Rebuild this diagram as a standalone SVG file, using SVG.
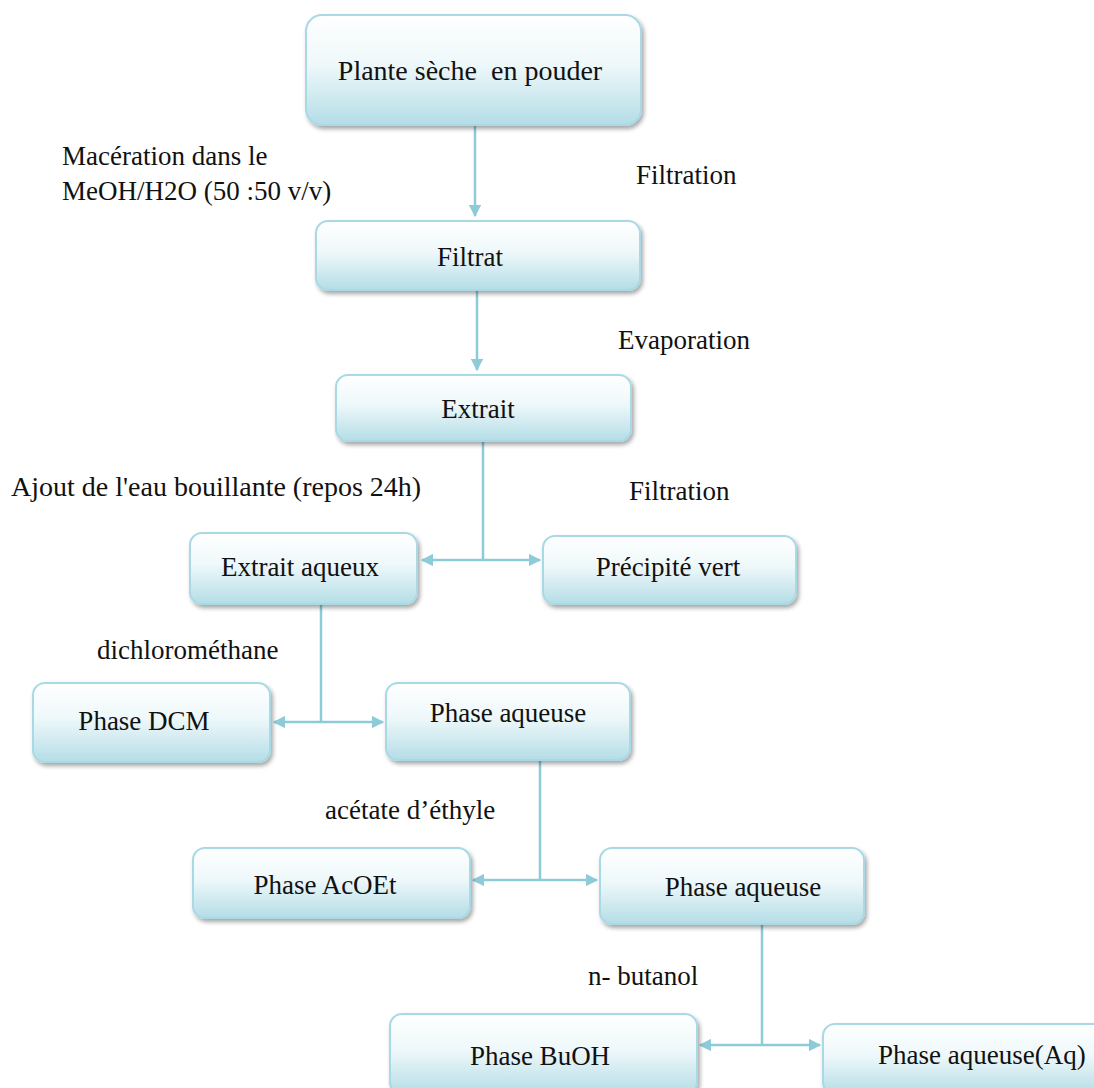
<svg xmlns="http://www.w3.org/2000/svg" width="1094" height="1088" viewBox="0 0 1094 1088">
<style>
.box{fill:url(#g);stroke:#a9d9e5;stroke-width:2}
.t{font-family:"Liberation Serif","Times New Roman",serif;font-size:27px;fill:#111}
.c{text-anchor:middle}
.ln{stroke:#8ecbd9;stroke-width:2.5;fill:none}
</style>
<defs>
<linearGradient id="g" x1="0" y1="0" x2="0" y2="1">
<stop offset="0" stop-color="#ffffff"/>
<stop offset="0.45" stop-color="#eef8fa"/>
<stop offset="1" stop-color="#b4dde6"/>
</linearGradient>
<filter id="sh" x="-10%" y="-10%" width="120%" height="130%">
<feDropShadow dx="2" dy="3" stdDeviation="2" flood-color="#000" flood-opacity="0.35"/>
</filter>
<marker id="a" viewBox="0 0 10 10" refX="9" refY="5" markerWidth="5" markerHeight="5" orient="auto-start-reverse">
<path d="M0,0 L10,5 L0,10 z" fill="#8ecbd9"/>
</marker>
</defs>
<rect width="1094" height="1088" fill="#fff"/>

<g id="connectors">
<path class="ln" d="M475,126 V216" marker-end="url(#a)"/>
<path class="ln" d="M477,291 V370" marker-end="url(#a)"/>
<path class="ln" d="M483,442 V560"/>
<path class="ln" d="M422,560 H540" marker-start="url(#a)" marker-end="url(#a)"/>
<path class="ln" d="M321,605 V722"/>
<path class="ln" d="M274,722 H383" marker-start="url(#a)" marker-end="url(#a)"/>
<path class="ln" d="M540,761 V880"/>
<path class="ln" d="M473,880 H597" marker-start="url(#a)" marker-end="url(#a)"/>
<path class="ln" d="M762,925 V1045"/>
<path class="ln" d="M700,1045 H820" marker-start="url(#a)" marker-end="url(#a)"/>
</g>

<g id="n1"><rect class="box" filter="url(#sh)" x="306" y="15" width="335" height="110" rx="16"/><text class="t c" x="470" y="80" style="font-size:28px" xml:space="preserve">Plante sèche  en pouder</text></g>
<g id="n2"><rect class="box" filter="url(#sh)" x="316" y="221" width="324" height="69" rx="12"/><text class="t c" x="470" y="266">Filtrat</text></g>
<g id="n3"><rect class="box" filter="url(#sh)" x="336" y="375" width="295" height="66" rx="12"/><text class="t c" x="478" y="418">Extrait</text></g>
<g id="n4"><rect class="box" filter="url(#sh)" x="190" y="533" width="227" height="71" rx="12"/><text class="t c" x="300" y="576">Extrait aqueux</text></g>
<g id="n5"><rect class="box" filter="url(#sh)" x="543" y="536" width="253" height="68" rx="12"/><text class="t c" x="668" y="576">Précipité vert</text></g>
<g id="n6"><rect class="box" filter="url(#sh)" x="33" y="683" width="237" height="79" rx="12"/><text class="t c" x="144" y="730">Phase DCM</text></g>
<g id="n7"><rect class="box" filter="url(#sh)" x="386" y="683" width="244" height="77" rx="12"/><text class="t c" x="508" y="722">Phase aqueuse</text></g>
<g id="n8"><rect class="box" filter="url(#sh)" x="193" y="848" width="277" height="70" rx="12"/><text class="t c" x="325" y="894">Phase AcOEt</text></g>
<g id="n9"><rect class="box" filter="url(#sh)" x="600" y="848" width="264" height="76" rx="12"/><text class="t c" x="743" y="896">Phase aqueuse</text></g>
<g id="n10"><rect class="box" filter="url(#sh)" x="390" y="1014" width="307" height="80" rx="12"/><text class="t c" x="540" y="1065">Phase BuOH</text></g>
<g id="n11"><rect class="box" filter="url(#sh)" x="823" y="1024" width="290" height="70" rx="12"/><text class="t" x="878" y="1064">Phase aqueuse(Aq)</text></g>

<g id="labels">
<text class="t" x="62" y="165">Macération dans le</text>
<text class="t" x="62" y="200">MeOH/H2O (50 :50 v/v)</text>
<text class="t" x="636" y="184">Filtration</text>
<text class="t" x="618" y="349">Evaporation</text>
<text class="t" x="11" y="496" style="font-size:28px">Ajout de l'eau bouillante (repos 24h)</text>
<text class="t" x="629" y="500">Filtration</text>
<text class="t" x="97" y="659">dichlorométhane</text>
<text class="t" x="325" y="819">acétate d’éthyle</text>
<text class="t" x="588" y="985">n- butanol</text>
</g>
</svg>
